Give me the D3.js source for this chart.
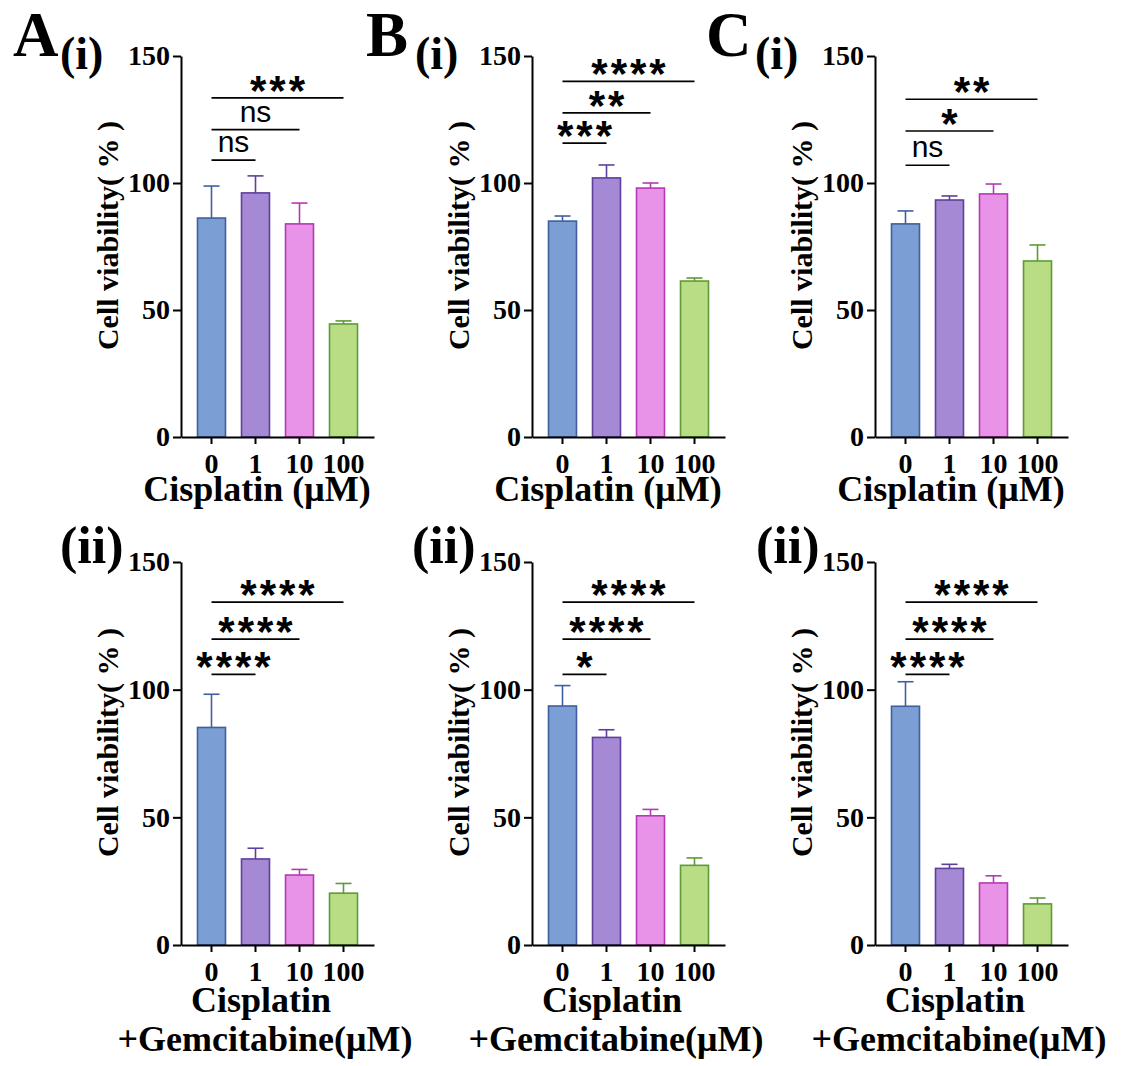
<!DOCTYPE html>
<html>
<head>
<meta charset="utf-8">
<script src="https://cdn.jsdelivr.net/npm/d3@7"></script>
<style>
  html, body { margin: 0; padding: 0; background: #fff; }
  svg { display: block; }
</style>
</head>
<body>
<svg id="chart" width="1121" height="1066"></svg>
<script>
// ---------- data ----------
const categories = ["0", "1", "10", "100"];
const yTickValues = [0, 50, 100, 150];

const A_i_mean  = [86.2, 96.1, 83.9, 44.5];
const A_i_err   = [12.6, 6.7, 8.2, 1.2];
const B_i_mean  = [85.0, 102.0, 98.0, 61.4];
const B_i_err   = [2.0, 5.1, 2.0, 1.2];
const C_i_mean  = [83.9, 93.3, 95.7, 69.3];
const C_i_err   = [5.1, 1.6, 3.9, 6.3];

const A_ii_mean = [85.2, 33.7, 27.4, 20.3];
const A_ii_err  = [13.0, 4.2, 2.2, 3.8];
const B_ii_mean = [93.6, 81.3, 50.6, 31.2];
const B_ii_err  = [8.0, 3.0, 2.5, 2.9];
const C_ii_mean = [93.5, 30.0, 24.3, 16.1];
const C_ii_err  = [9.6, 1.6, 2.8, 2.3];

// significance brackets: [level, fromIndex, toIndex, label]
const A_i_sig  = [[109, 0, 1, "ns"], [121, 0, 2, "ns"], [133.5, 0, 3, "***"]];
const B_i_sig  = [[115.7, 0, 1, "***"], [127.6, 0, 2, "**"], [140, 0, 3, "****"]];
const C_i_sig  = [[107, 0, 1, "ns"], [120.5, 0, 2, "*"], [133, 0, 3, "**"]];
const A_ii_sig = [[106, 0, 1, "****"], [119.8, 0, 2, "****"], [134.3, 0, 3, "****"]];
const B_ii_sig = [[106, 0, 1, "*"], [119.8, 0, 2, "****"], [134.3, 0, 3, "****"]];
const C_ii_sig = [[106, 0, 1, "****"], [119.8, 0, 2, "****"], [134.3, 0, 3, "****"]];

const yTitle = "Cell viability( % )";
const xTitleTop = ["Cisplatin (μM)"];
const xTitleBottom = ["Cisplatin", "+Gemcitabine(μM)"];

// ---------- styles ----------
const fills   = ["#7b9fd4", "#a689d4", "#e993e8", "#b9dd85"];
const strokes = ["#3f5f9e", "#5e3f9e", "#b43ab4", "#5f9a35"];
const SERIF = "'Liberation Serif', 'Times New Roman', serif";
const SANS  = "'Liberation Sans', Arial, sans-serif";

const svg = d3.select("#chart");

const columns = [181, 532, 875];
const rows = [{ y0: 437, y150: 56 }, { y0: 945, y150: 562 }];

const panels = [
  { col: 0, row: 0, mean: A_i_mean,  err: A_i_err,  sig: A_i_sig },
  { col: 1, row: 0, mean: B_i_mean,  err: B_i_err,  sig: B_i_sig },
  { col: 2, row: 0, mean: C_i_mean,  err: C_i_err,  sig: C_i_sig },
  { col: 0, row: 1, mean: A_ii_mean, err: A_ii_err, sig: A_ii_sig },
  { col: 1, row: 1, mean: B_ii_mean, err: B_ii_err, sig: B_ii_sig },
  { col: 2, row: 1, mean: C_ii_mean, err: C_ii_err, sig: C_ii_sig }
];

panels.forEach(p => {
  const ax = columns[p.col];
  const r = rows[p.row];
  const g = svg.append("g");

  const x = d3.scaleBand().domain(categories).range([ax, ax + 193])
    .paddingInner(0.364).paddingOuter(0.375);
  const y = d3.scaleLinear().domain([0, 150]).range([r.y0, r.y150]);

  // bars
  const data = categories.map((c, i) => ({ c, i, m: p.mean[i], e: p.err[i] }));
  g.selectAll("rect.bar").data(data).join("rect")
    .attr("x", d => x(d.c))
    .attr("y", d => y(d.m))
    .attr("width", x.bandwidth())
    .attr("height", d => y(0) - y(d.m))
    .attr("fill", d => fills[d.i])
    .attr("stroke", d => strokes[d.i])
    .attr("stroke-width", 1.6);

  // error bars (upper only)
  const cx = d => x(d.c) + x.bandwidth() / 2;
  g.selectAll("line.err").data(data).join("line")
    .attr("x1", cx).attr("x2", cx)
    .attr("y1", d => y(d.m)).attr("y2", d => y(d.m + d.e))
    .attr("stroke", d => strokes[d.i]).attr("stroke-width", 1.6);
  g.selectAll("line.cap").data(data).join("line")
    .attr("x1", d => cx(d) - 8).attr("x2", d => cx(d) + 8)
    .attr("y1", d => y(d.m + d.e)).attr("y2", d => y(d.m + d.e))
    .attr("stroke", d => strokes[d.i]).attr("stroke-width", 1.6);

  // axes
  const yAxis = d3.axisLeft(y).tickValues(yTickValues).tickSize(8).tickPadding(3).tickSizeOuter(0);
  const gy = g.append("g").attr("transform", `translate(${ax},0)`).call(yAxis);
  const xAxis = d3.axisBottom(x).tickSize(7).tickPadding(9).tickSizeOuter(0);
  const gx = g.append("g").attr("transform", `translate(0,${r.y0})`).call(xAxis);
  [gy, gx].forEach(a => {
    a.select(".domain").attr("stroke", "#000").attr("stroke-width", 2);
    a.selectAll(".tick line").attr("stroke", "#000").attr("stroke-width", 2);
    a.selectAll(".tick text").attr("fill", "#000")
      .style("font-family", SERIF).style("font-weight", "bold").style("font-size", "28px");
  });

  // y title
  const yc = (r.y0 + r.y150) / 2 - 11;
  g.append("text")
    .attr("transform", `translate(${ax - 63},${yc}) rotate(-90)`)
    .attr("text-anchor", "middle")
    .style("font-family", SERIF).style("font-weight", "bold").style("font-size", "30px")
    .text(yTitle);

  // x title
  if (p.row === 0) {
    g.append("text").attr("x", ax + 76).attr("y", 501).attr("text-anchor", "middle")
      .style("font-family", SERIF).style("font-weight", "bold").style("font-size", "36px")
      .text(xTitleTop[0]);
  } else {
    g.append("text").attr("x", ax + 80).attr("y", 1012).attr("text-anchor", "middle")
      .style("font-family", SERIF).style("font-weight", "bold").style("font-size", "36px")
      .text(xTitleBottom[0]);
    g.append("text").attr("x", ax + 84).attr("y", 1051).attr("text-anchor", "middle")
      .style("font-family", SERIF).style("font-weight", "bold").style("font-size", "36px")
      .text(xTitleBottom[1]);
  }

  // significance brackets
  p.sig.forEach(([lvl, i0, i1, lab]) => {
    const xa = x(categories[i0]) + x.bandwidth() / 2;
    const xb = x(categories[i1]) + x.bandwidth() / 2;
    const ly = y(lvl);
    g.append("line").attr("x1", xa).attr("x2", xb).attr("y1", ly).attr("y2", ly)
      .attr("stroke", "#000").attr("stroke-width", 1.6);
    const t = g.append("text").attr("x", (xa + xb) / 2).attr("text-anchor", "middle").text(lab);
    if (lab === "ns") {
      t.attr("y", ly - 8).style("font-family", SANS).style("font-size", "30px");
    } else {
      t.attr("y", ly + 7).attr("dx", 1.5).style("font-family", SANS).style("font-weight", "bold")
        .style("font-size", "42px").style("letter-spacing", "3px");
    }
  });
});

// panel letters
const letters = [["A", 13], ["B", 366], ["C", 706]];
letters.forEach(([L, lx]) => {
  svg.append("text").attr("x", lx).attr("y", 56)
    .style("font-family", SERIF).style("font-weight", "bold").style("font-size", "63px").text(L);
});
const romanTop = [60, 415, 755];
romanTop.forEach(rx => {
  svg.append("text").attr("x", rx).attr("y", 69)
    .style("font-family", SERIF).style("font-weight", "bold").style("font-size", "46px").text("(i)");
});
const romanBottom = [60, 412, 756];
romanBottom.forEach(rx => {
  svg.append("text").attr("x", rx).attr("y", 563)
    .style("font-family", SERIF).style("font-weight", "bold").style("font-size", "52px").text("(ii)");
});
</script>
</body>
</html>
